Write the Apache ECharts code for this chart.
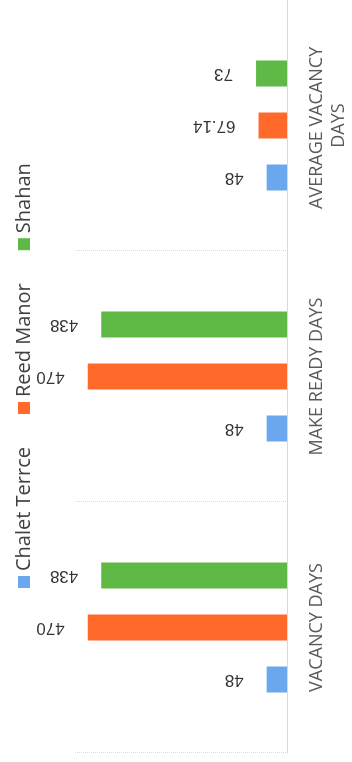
<!DOCTYPE html>
<html lang="en">
<head>
    <meta charset="UTF-8">
    <title>Property days</title>
    <script src="https://cdn.jsdelivr.net/npm/echarts@6/dist/echarts.min.js"></script>
    <style>
        html, body { margin: 0; padding: 0; background: #fff; overflow: hidden; }
        /* the chart is drawn upright and then turned a quarter turn left, like the photo */
        #main {
            position: absolute; left: 0; top: 0;
            width: 762px; height: 352px;
            transform-origin: 0 0;
            transform: translateY(762px) rotate(-90deg);
        }
    </style>
</head>
<body>
<div id="main"></div>
<script type="text/javascript">
    var categories = ['VACANCY DAYS', 'MAKE READY DAYS', 'AVERAGE VACANCY DAYS'];
    var seriesNames = ['Chalet Terrce', 'Reed Manor', 'Shahan'];
    var chaletValues = [48, 48, 48];
    var reedValues = [470, 470, 67.14];
    var shahanValues = [438, 438, 73];
    var colors = ['#6ba7ee', '#ff6a2b', '#5fb946'];

    var font = "'Open Sans', 'Liberation Sans', sans-serif";

    function makeSeries(name, data, color) {
        return {
            name: name,
            type: 'bar',
            data: data,
            barWidth: 26,
            barGap: '100%',
            itemStyle: { color: color },
            label: {
                show: true,
                position: 'top',
                rotate: 90,
                align: 'left',
                verticalAlign: 'middle',
                distance: 23,
                fontFamily: "'Liberation Sans', sans-serif",
                fontSize: 17,
                color: '#333333'
            }
        };
    }

    var myChart = echarts.init(document.getElementById('main'));
    var option = {
        animation: false,
        color: colors,
        legend: {
            data: seriesNames,
            left: 169,
            top: 9,
            icon: 'rect',
            itemWidth: 12,
            itemHeight: 12,
            itemGap: 33,
            textStyle: { fontFamily: font, fontSize: 20, color: '#404040' }
        },
        grid: { left: 9, width: 759, top: 75, bottom: 65 },
        xAxis: {
            type: 'category',
            data: categories,
            axisLine: { lineStyle: { color: '#d9d9d9' } },
            axisTick: { show: false },
            splitLine: { show: true, lineStyle: { color: '#d9d9d9', type: 'dotted' } },
            axisLabel: {
                interval: 0,
                margin: 19,
                width: 200,
                overflow: 'break',
                lineHeight: 22,
                fontFamily: font,
                fontSize: 18,
                color: '#595959'
            }
        },
        yAxis: {
            type: 'value',
            min: 0,
            max: 500,
            show: false,
            splitLine: { show: false }
        },
        series: [
            makeSeries(seriesNames[0], chaletValues, colors[0]),
            makeSeries(seriesNames[1], reedValues, colors[1]),
            makeSeries(seriesNames[2], shahanValues, colors[2])
        ]
    };
    myChart.setOption(option);
</script>
</body>
</html>
